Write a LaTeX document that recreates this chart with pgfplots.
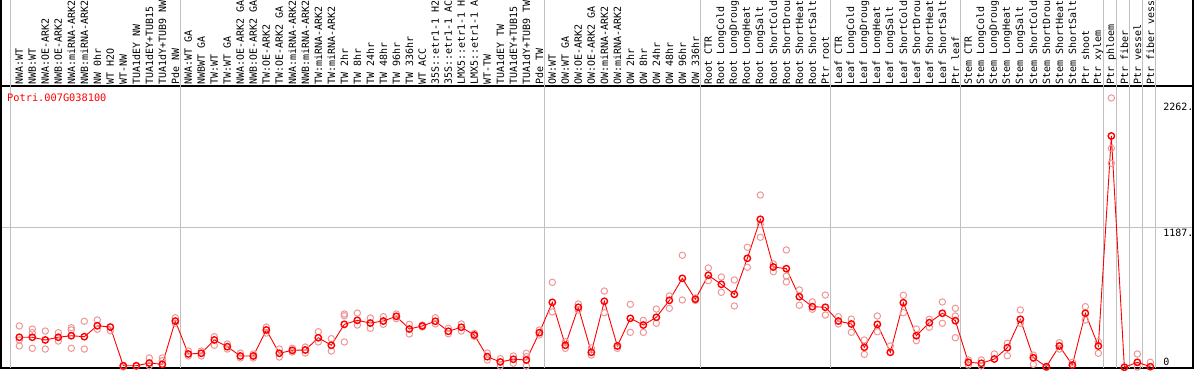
\documentclass[border=0pt]{standalone}
\usepackage{pgfplots}
\pgfplotsset{compat=1.18}
\usepackage{pgfplotstable}
\usepackage{fontspec}
\newfontfamily\monofont{DejaVu Sans Mono}
\definecolor{pale}{RGB}{238,150,150}
\definecolor{sep}{RGB}{192,192,192}

\pgfplotstableread{
x y
0 257
1 257
2 234
3 257
4 270
5 262
6 355
7 344
8 15
9 15
10 38
11 27
12 395
13 115
14 121
15 234
16 177
17 98
18 98
19 319
20 121
21 146
22 149
23 253
24 189
25 367
26 401
27 378
28 395
29 435
30 327
31 353
32 393
33 308
34 342
35 276
36 92
37 47
38 70
39 64
40 296
41 554
42 189
43 512
44 129
45 563
46 183
47 418
48 361
49 427
50 571
51 758
52 580
53 784
54 707
55 622
56 928
57 1260
58 854
59 840
60 602
61 517
62 512
63 395
64 370
65 172
66 367
67 129
68 551
69 270
70 381
71 461
72 398
73 44
74 36
75 72
76 168
77 410
78 83
79 7
80 183
81 21
82 461
83 183
84 1968
85 2
86 44
87 7
}\means

\pgfplotstableread{
x y
0 353
0 234
0 183
1 327
1 296
1 163
2 310
2 157
3 296
3 225
4 338
4 319
4 163
5 393
5 157
6 404
6 325
7 313
8 4
8 15
9 13
10 81
10 15
11 81
11 58
12 423
12 376
13 140
13 98
14 140
14 98
15 262
15 189
16 200
16 157
17 123
17 81
18 115
18 81
19 344
19 293
20 157
20 89
21 163
21 132
22 174
22 123
23 304
23 217
24 245
24 140
25 455
25 440
25 217
26 463
26 361
27 421
27 333
28 432
28 367
29 455
29 415
30 367
30 285
31 360
31 345
32 423
32 370
33 333
33 287
34 370
34 310
35 290
35 265
36 123
36 64
37 75
37 13
38 98
38 36
39 121
39 92
39 13
40 319
40 276
41 724
41 472
42 219
42 163
43 540
43 489
44 166
44 106
45 650
45 466
46 163
47 537
47 299
48 401
48 299
49 497
49 376
50 608
50 503
51 954
51 574
52 590
52 570
53 846
53 738
54 769
54 639
55 744
55 523
56 1022
56 852
57 1466
57 1217
57 1107
58 880
58 814
59 999
59 778
59 727
60 659
60 529
61 557
61 495
62 616
62 446
63 432
63 370
64 412
64 299
65 234
65 112
66 438
66 304
67 183
68 614
68 466
69 327
69 228
70 410
70 342
71 557
71 376
72 503
72 438
72 253
73 64
73 21
74 64
74 13
75 115
76 206
76 100
77 489
77 376
78 106
78 27
79 7
79 0
80 211
80 157
81 44
82 517
82 404
83 219
83 121
84 2291
84 1863
84 1736
85 2
86 115
86 4
87 44
}\reps

\begin{document}
\begin{tikzpicture}
\begin{axis}[
  at={(1pt,2pt)}, anchor=south west,
  scale only axis, width=1192pt, height=282pt,
  xmin=-1.408, xmax=90.285, ymin=-4.25, ymax=2392.75,
  clip=false,
  axis line style={black, line width=1.2pt},
  xtick={0,...,87},
  xticklabels={NWA:WT,NWB:WT,NWA:OE-ARK2,NWB:OE-ARK2,NWA:miRNA-ARK2,NWB:miRNA-ARK2,NW 0hr,WT H2O,WT-NW,TUA1dEY NW,TUA1dEY+TUB15,TUA1dY+TUB9 NW,Pde NW,NWA:WT GA,NWBWT GA,TW:WT,TW:WT GA,NWA:OE-ARK2 GA,NWB:OE-ARK2 GA,TW:OE-ARK2,TW:OE-ARK2 GA,NWA:miRNA-ARK2,NWB:miRNA-ARK2,TW:miRNA-ARK2,TW:miRNA-ARK2,TW 2hr,TW 8hr,TW 24hr,TW 48hr,TW 96hr,TW 336hr,WT ACC,35S::etr1-1 H2,35S::etr1-1 AC,LMX5::etr1-1 H,LMX5::etr1-1 A,WT-TW,TUA1dEY TW,TUA1dEY+TUB15,TUA1dY+TUB9 TW,Pde TW,OW:WT,OW:WT GA,OW:OE-ARK2,OW:OE-ARK2 GA,OW:miRNA-ARK2,OW:miRNA-ARK2,OW 2hr,OW 8hr,OW 24hr,OW 48hr,OW 96hr,OW 336hr,Root CTR,Root LongCold,Root LongDroug,Root LongHeat,Root LongSalt,Root ShortCold,Root ShortDrou,Root ShortHeat,Root ShortSalt,Ptr root,Leaf CTR,Leaf LongCold,Leaf LongDroug,Leaf LongHeat,Leaf LongSalt,Leaf ShortCold,Leaf ShortDrou,Leaf ShortHeat,Leaf ShortSalt,Ptr leaf,Stem CTR,Stem LongCold,Stem LongDroug,Stem LongHeat,Stem LongSalt,Stem ShortCold,Stem ShortDrou,Stem ShortHeat,Stem ShortSalt,Ptr shoot,Ptr xylem,Ptr phloem,Ptr fiber,Ptr vessel,Ptr fiber vess},
  xticklabel pos=upper,
  major tick length=0pt,
  xticklabel style={rotate=90, anchor=west, inner sep=1.5pt, font=\monofont\fontsize{10}{12}\selectfont},
  ytick={1187}, yticklabels={},
  ymajorgrids, grid style={sep, line width=0.9pt},
]
\pgfplotsinvokeforeach{-0.65,12.385,40.385,52.385,62.415,72.415,83.385,84.385,85.385,86.385,87.385}{
  \draw[sep, line width=0.9pt] (axis cs:#1,-4.25) -- (axis cs:#1,3124);
}
\draw[black, line width=1.2pt] (rel axis cs:0,0) -- (rel axis cs:0,1.31);
\draw[black, line width=1.2pt] (rel axis cs:1,0) -- (rel axis cs:1,1.31);

\addplot[only marks, pale, mark=o, mark size=3.2pt, mark options={line width=1pt}] table {\reps};
\addplot[red, line width=0.9pt, mark=o, mark size=3.2pt, mark options={line width=1.4pt}] table {\means};

\node[anchor=north west, inner sep=0pt, text=red, font=\monofont\fontsize{10.3}{12}\selectfont] at ([xshift=6pt,yshift=-7pt]rel axis cs:0,1) {Potri.007G038100};
\node[anchor=west, inner sep=0pt, font=\monofont\fontsize{10}{12}\selectfont] at (axis cs:87.98,2214) {2262.};
\node[anchor=west, inner sep=0pt, font=\monofont\fontsize{10}{12}\selectfont] at (axis cs:87.98,1146) {1187.};
\node[anchor=west, inner sep=0pt, font=\monofont\fontsize{10}{12}\selectfont] at (axis cs:87.98,49) {0};
\end{axis}
\pgfresetboundingbox
\path[use as bounding box] (0,0) rectangle (1194pt,370pt);
\end{tikzpicture}
\end{document}
